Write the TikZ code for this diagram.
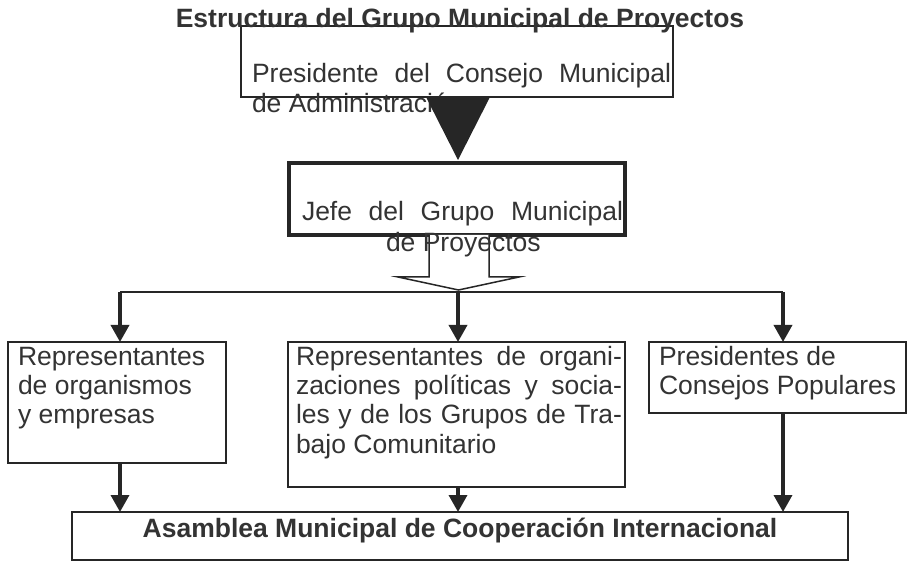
\documentclass[tikz,border=0pt]{standalone}
\usepackage{fontspec}
\setmainfont{Liberation Sans}
\usetikzlibrary{arrows.meta}
\definecolor{txt}{HTML}{333333}
\definecolor{ln}{HTML}{262626}
\begin{document}
\begin{tikzpicture}[x=1pt,y=-1pt,
  box/.style={draw=ln, line width=1.5pt, fill=white, rectangle, inner sep=0pt, outer sep=0pt},
  txtn/.style={anchor=base west, inner sep=0pt, outer sep=0pt, text=txt, font=\fontsize{26.5}{30}\selectfont},
  boldn/.style={anchor=base, inner sep=0pt, outer sep=0pt, text=txt, font=\fontsize{26.5}{30}\selectfont\bfseries},
  conn/.style={draw=ln, line width=3.5pt, -{Triangle[width=18pt,length=17pt]}},
  hollow/.style={draw=ln, line width=1.5pt, fill=white, line join=miter},
  solidtri/.style={fill=ln, draw=none}
]
\useasboundingbox (0,0) rectangle (908,561);

% boxes
\node[box, minimum width=432pt, minimum height=71pt] (pres) at (457,61.5) {};
\node[box, line width=3.5pt, minimum width=336pt, minimum height=72pt] (jefe) at (457,199) {};
\node[box, minimum width=218pt, minimum height=121pt] (b1) at (117,402.5) {};
\node[box, minimum width=337pt, minimum height=145pt] (b2) at (456.5,414.5) {};
\node[box, minimum width=257pt, minimum height=71pt] (b3) at (777.5,377.5) {};
\node[box, minimum width=776pt, minimum height=48pt] (asam) at (460,536) {};

% title
\node[boldn] (title) at (460,28) {Estructura del Grupo Municipal de Proyectos};

% president text
\node[txtn] (p1) at (252,83) {\makebox[419pt][s]{Presidente del Consejo Municipal}};
\node[txtn] (p2) at (252,113) {de Administración};

% solid triangle from president to jefe
\coordinate (triL) at (426,97);
\coordinate (triR) at (490,97);
\coordinate (triT) at (458,160);
\fill[ln] (triL) -- (triR) -- (triT) -- cycle;

% jefe text
\node[txtn] (j1) at (302,221) {\makebox[321pt][s]{Jefe del Grupo Municipal}};

% hollow arrow
\draw[hollow] (429,235) -- (429,277) -- (398,277) -- (458.5,290) -- (519,277) -- (489,277) -- (489,235);
\node[txtn] (j2) at (386,252) {de Proyectos};

% distribution line
\coordinate (hL) at (120,292);
\coordinate (hM) at (458,292);
\coordinate (hR) at (783,292);
\draw[draw=ln, line width=2pt] (hL) -- (hR);
\draw[conn] (hL) -- (hL |- b1.north);
\draw[conn] (hM) -- (hM |- b2.north);
\draw[conn] (hR) -- (hR |- b3.north);

% box texts
\node[txtn] (t11) at (18,366) {Representantes};
\node[txtn] (t12) at (18,395) {de organismos};
\node[txtn] (t13) at (18,424) {y empresas};

\node[txtn] (t21) at (296,366) {\makebox[326pt][s]{Representantes de organi-}};
\node[txtn] (t22) at (296,395) {\makebox[326pt][s]{zaciones políticas y socia-}};
\node[txtn] (t23) at (296,424) {\makebox[326pt][s]{les y de los Grupos de Tra-}};
\node[txtn] (t24) at (296,453) {bajo Comunitario};

\node[txtn] (t31) at (659,366) {Presidentes de};
\node[txtn] (t32) at (659,395) {Consejos Populares};

% arrows to assembly
\draw[conn] (b1.south -| hL) -- (hL |- asam.north);
\draw[conn] (b2.south -| hM) -- (hM |- asam.north);
\draw[conn] (b3.south -| hR) -- (hR |- asam.north);

\node[boldn] (asamt) at (460,537) {Asamblea Municipal de Cooperación Internacional};
\end{tikzpicture}
\end{document}
